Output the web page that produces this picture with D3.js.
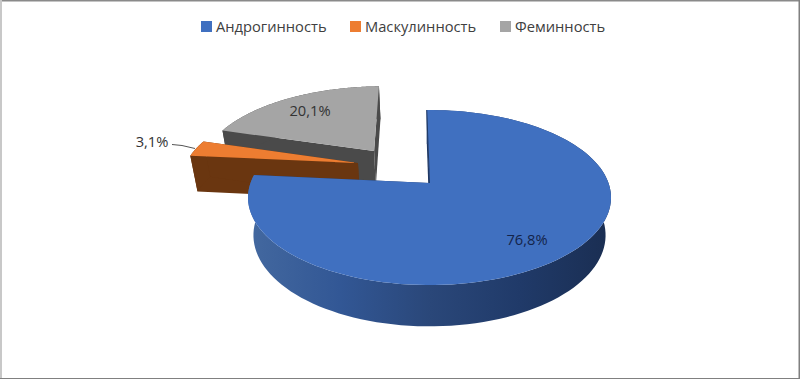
<!DOCTYPE html>
<html><head><meta charset="utf-8">
<script src="https://cdn.jsdelivr.net/npm/d3@7"></script>
<style>html,body{margin:0;padding:0;background:#fff}svg{display:block}</style>
</head><body><svg id="c" width="800" height="379"></svg>
<script>
const categories = ["Андрогинность", "Маскулинность", "Феминность"];
const values = [76.8, 3.1, 20.1];
const labels = ["76,8%", "3,1%", "20,1%"];
const topColors = ["#4070c0", "#ed7d31", "#a5a5a5"];
const wallColors = ["#1f3864", "#6a3610", "#4a4a4a"];
const explodeX = [0, -0.416, -0.33];
const explodeY = [0, -0.2445, -0.40];
const legendX = [201, 350, 500];

const svg = d3.select("#c");
const cx = 429.5, cy = 183, Rx = 179, Ry = 85.1, k = 0.166, D = 37, s = 0.97, tilt = -0.018;

function project(X, Y, low) {
  const w = 1 - k * Y, f = low ? s : 1;
  return [cx + Rx * X * f / w, cy + (Ry * Y * f + (low ? D : 0)) / w];
}
const arcs = d3.pie().sort(null).value(d => d)(values);
const rim = (a, i, low) => project(Math.sin(a + tilt) + explodeX[i], -Math.cos(a + tilt) + explodeY[i], low);
const apex = (i, low) => project(explodeX[i], explodeY[i], low);
const sweep = (a0, a1) => d3.range(0, 121).map(j => a0 + (a1 - a0) * j / 120);
const line = d3.line();

const defs = svg.append("defs");
const grad = defs.append("linearGradient").attr("id", "wall").attr("gradientUnits", "userSpaceOnUse")
  .attr("x1", 250).attr("x2", 610).attr("y1", 0).attr("y2", 0);
[[0, "#43689f"], [0.25, "#325795"], [0.5, "#2a4779"], [0.75, "#203a69"], [1, "#1a2e52"]]
  .forEach(([o, c]) => grad.append("stop").attr("offset", o).attr("stop-color", c));

function drawSlice(i) {
  const a = arcs[i], g = svg.append("g");
  const wall = i === 0 ? "url(#wall)" : wallColors[i];
  [a.startAngle, a.endAngle].forEach(t => {
    g.append("path").attr("d", line([apex(i), rim(t, i), rim(t, i, true), apex(i, true)]) + "Z")
      .attr("fill", wallColors[i]);
  });
  const angles = sweep(a.startAngle, a.endAngle);
  g.append("path").attr("d", line(angles.map(t => rim(t, i)).concat(angles.slice().reverse().map(t => rim(t, i, true)))) + "Z")
    .attr("fill", wall);
  g.append("path").attr("d", line([apex(i)].concat(angles.map(t => rim(t, i)))) + "Z")
    .attr("fill", topColors[i]);
  if (i === 0) {
    g.append("path").attr("d", line([apex(i), rim(a.startAngle, i)])).attr("fill", "none")
      .attr("stroke", wallColors[i]).attr("stroke-width", 1);
  }
}
[2, 1, 0].forEach(drawSlice);

svg.append("path").attr("d", "M172,144.5L182,145.5L195,148.5").attr("fill", "none").attr("stroke", "#555").attr("stroke-width", 1);

const font = "'Open Sans', sans-serif";
const lab = [[527, 240, "#14244a"], [152, 142, "#333"], [310, 111, "#333"]];
labels.forEach((t, i) => svg.append("text").attr("x", lab[i][0]).attr("y", lab[i][1]).attr("dy", "0.35em")
  .attr("text-anchor", "middle").attr("fill", lab[i][2]).attr("font-family", font).attr("font-size", 14.7).text(t));

categories.forEach((t, i) => {
  svg.append("rect").attr("x", legendX[i]).attr("y", 21).attr("width", 11).attr("height", 11).attr("fill", topColors[i]);
  svg.append("text").attr("x", legendX[i] + 15).attr("y", 27).attr("dy", "0.35em").attr("fill", "#404040")
    .attr("font-family", font).attr("font-size", 14.7).text(t);
});

// picture frame
const frame = svg.append("g");
frame.append("rect").attr("x", 0).attr("y", 0).attr("width", 800).attr("height", 1.5).attr("fill", "#8a8a8a");
frame.append("rect").attr("x", 0).attr("y", 0).attr("width", 2).attr("height", 379).attr("fill", "#c8c8c8");
frame.append("rect").attr("x", 798.5).attr("y", 0).attr("width", 1.5).attr("height", 379).attr("fill", "#808080");
frame.append("rect").attr("x", 0).attr("y", 378).attr("width", 800).attr("height", 1).attr("fill", "#808080");
</script></body></html>
